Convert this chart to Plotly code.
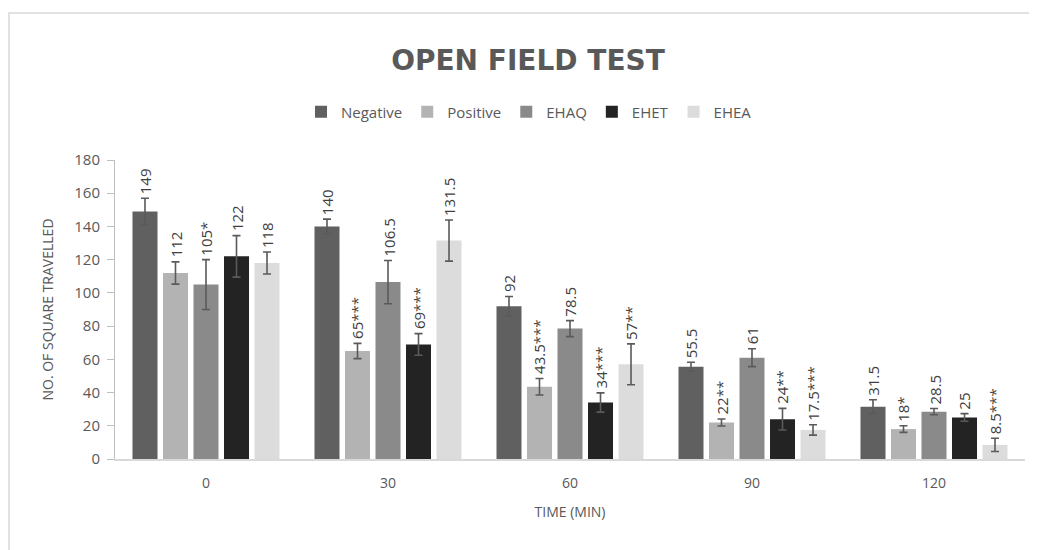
import plotly.graph_objects as go

times = ["0", "30", "60", "90", "120"]
series_names = ["Negative", "Positive", "EHAQ", "EHET", "EHEA"]
colors = ["#606060", "#b3b3b3", "#8a8a8a", "#232323", "#dcdcdc"]

negative = [149, 140, 92, 55.5, 31.5]
positive = [112, 65, 43.5, 22, 18]
ehaq = [105, 106.5, 78.5, 61, 28.5]
ehet = [122, 69, 34, 24, 25]
ehea = [118, 131.5, 57, 17.5, 8.5]

negative_err = [8, 4.4, 5.8, 2.7, 4.2]
positive_err = [6.7, 4.6, 5, 2.1, 2]
ehaq_err = [15, 13, 4.8, 5.4, 1.9]
ehet_err = [12.5, 6.5, 5.8, 6.5, 2.3]
ehea_err = [6.6, 12.4, 12.3, 3.1, 4]

negative_lbl = ["149", "140", "92", "55.5", "31.5"]
positive_lbl = ["112", "65***", "43.5***", "22**", "18*"]
ehaq_lbl = ["105*", "106.5", "78.5", "61", "28.5"]
ehet_lbl = ["122", "69***", "34***", "24**", "25"]
ehea_lbl = ["118", "131.5", "57**", "17.5***", "8.5***"]

values = [negative, positive, ehaq, ehet, ehea]
errors = [negative_err, positive_err, ehaq_err, ehet_err, ehea_err]
labels = [negative_lbl, positive_lbl, ehaq_lbl, ehet_lbl, ehea_lbl]

FONT = "Open Sans"
GRAY = "#595959"

# plot area in figure px (page adds an 8px offset)
L, T, W, H = 107, 152, 910, 299

fig = go.Figure()
for name, col, vals, errs in zip(series_names, colors, values, errors):
    fig.add_trace(go.Bar(
        name=name, x=times, y=vals, marker=dict(color=col, line=dict(width=0)),
        error_y=dict(type="data", array=errs, color="#5a5a5a", thickness=1.6, width=4),
    ))

annotations = []
for i, (vals, errs, lbls) in enumerate(zip(values, errors, labels)):
    for j, (v, e, lb) in enumerate(zip(vals, errs, lbls)):
        annotations.append(dict(
            x=j, y=v + e, xref="x", yref="y", text=lb, showarrow=False,
            textangle=-90, yanchor="bottom", xanchor="center",
            xshift=(i - 2) * 30.5, yshift=2,
            font=dict(family=FONT, size=15, color="#404040"),
        ))

fig.update_layout(
    width=1037, height=550,
    margin=dict(l=L, r=1037 - L - W, t=T, b=550 - T - H),
    paper_bgcolor="white", plot_bgcolor="white",
    barmode="group", bargap=0.162, bargroupgap=0.18,
    title=dict(text="<b>OPEN FIELD TEST</b>", x=520 / 1037, xanchor="center",
               y=1 - 52 / 550, yanchor="middle",
               font=dict(family="DejaVu Sans", size=28, color=GRAY)),
    legend=dict(orientation="h", xref="container", yref="container",
                x=521 / 1037, xanchor="center", y=1 - 104 / 550, yanchor="middle",
                font=dict(family=FONT, size=15, color=GRAY),
                itemwidth=30, traceorder="normal"),
    annotations=annotations,
    shapes=[dict(type="rect", xref="paper", yref="paper",
                 x0=(1 - L) / W, x1=(1045 - L) / W,
                 y0=(T + H - 570) / H, y1=(T + H - 5) / H,
                 line=dict(color="#d9d9d9", width=1.5), fillcolor="rgba(0,0,0,0)",
                 layer="below")],
)

fig.update_xaxes(
    type="category", range=[-0.5, 4.5], autorange=False,
    showline=True, linecolor="#d9d9d9", linewidth=2,
    ticks="", showgrid=False, ticklabelstandoff=10,
    tickfont=dict(family=FONT, size=14, color=GRAY),
    title=dict(text="TIME (MIN)", font=dict(family=FONT, size=14, color=GRAY), standoff=16),
)
fig.update_yaxes(
    range=[0, 180], autorange=False, dtick=20, showgrid=False, zeroline=False,
    showline=True, linecolor="#bfbfbf", linewidth=1,
    ticks="outside", ticklen=7, tickcolor="#bfbfbf", ticklabelstandoff=4,
    tickfont=dict(family=FONT, size=15, color=GRAY),
    title=dict(text="NO. OF SQUARE TRAVELLED", font=dict(family=FONT, size=14, color=GRAY), standoff=17),
)

fig.write_html("out.html")
